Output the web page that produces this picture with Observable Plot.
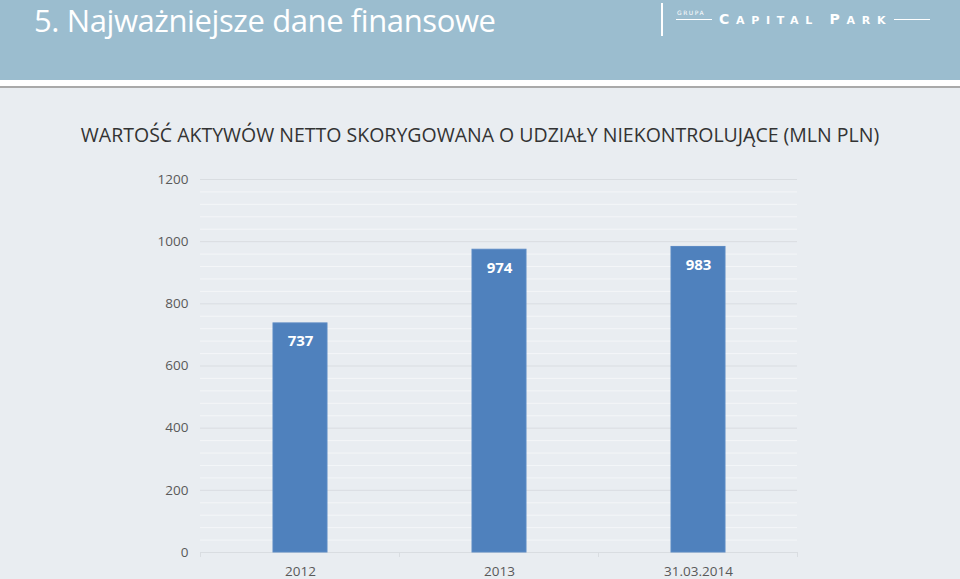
<!DOCTYPE html>
<html>
<head>
<meta charset="utf-8">
<script src="https://cdn.jsdelivr.net/npm/d3@7"></script>
<script src="https://cdn.jsdelivr.net/npm/@observablehq/plot@0.6"></script>
<style>
  html, body { margin: 0; padding: 0; }
  body { width: 960px; height: 579px; overflow: hidden; background: #e9edf1; position: relative; font-family: "Open Sans", sans-serif; }
  #header { position: absolute; left: 0; top: 0; width: 960px; height: 80px; background: #9bbdcf; }
  #whiteband { position: absolute; left: 0; top: 80px; width: 960px; height: 6px; background: #ffffff; }
  #shadow { position: absolute; left: 0; top: 86px; width: 960px; height: 2px; background: #a9a9a9; }
  #htitle { position: absolute; left: 34px; top: -1px; color: #ffffff; font-size: 31px; white-space: nowrap; letter-spacing: -0.4px; }
  #vline { position: absolute; left: 661px; top: 3px; width: 2px; height: 33px; background: #ffffff; }
  #grupa { position: absolute; left: 677px; top: 9px; color: #ffffff; font-size: 6px; letter-spacing: 1.5px; font-family: "DejaVu Sans", sans-serif; }
  #grupaline { position: absolute; left: 676px; top: 19px; width: 36px; height: 1px; background: #ffffff; }
  #capital { position: absolute; left: 719px; top: 12px; color: #ffffff; font-size: 11px; letter-spacing: 6.7px; font-weight: bold; white-space: nowrap; font-family: "DejaVu Sans", sans-serif; line-height: 14px; }
  #capital .big { font-size: 14px; }
  #parkline { position: absolute; left: 894px; top: 19px; width: 36px; height: 1px; background: #ffffff; }
  #ctitle { position: absolute; left: 0; width: 960px; top: 121px; text-align: center; color: #333333; font-size: 19.5px; white-space: nowrap; }
  #chart { position: absolute; left: 0; top: 160px; }
</style>
</head>
<body>
<div id="header"></div>
<div id="whiteband"></div>
<div id="shadow"></div>
<div id="htitle">5. Najważniejsze dane finansowe</div>
<div id="vline"></div>
<div id="grupa">GRUPA</div>
<div id="grupaline"></div>
<div id="capital"><span class="big">C</span>APITAL <span class="big">P</span>ARK</div>
<div id="parkline"></div>
<div id="ctitle">WARTOŚĆ AKTYWÓW NETTO SKORYGOWANA O UDZIAŁY NIEKONTROLUJĄCE (MLN PLN)</div>
<div id="chart"></div>
<script>
const categories = ["2012", "2013", "31.03.2014"];
const values = [737, 974, 983];
const yTicks = [0, 200, 400, 600, 800, 1000, 1200];
const yMinor = [40, 80, 120, 160, 240, 280, 320, 360, 440, 480, 520, 560, 640, 680, 720, 760, 840, 880, 920, 960, 1040, 1080, 1120, 1160];

const data = categories.map((c, i) => ({category: c, value: values[i]}));

// Tick marks at band boundaries, computed from the x scale
function bandBoundaries(index, scales, channels, dimensions) {
  const x = scales.x;
  const bw = typeof x.bandwidth === "function" ? x.bandwidth() : (x.bandwidth || 0);
  const centers = categories.map(c => x(c) + bw / 2);
  const step = centers[1] - centers[0];
  const bounds = [centers[0] - step / 2, ...centers.map(c => c + step / 2)];
  const y0 = scales.y(0);
  const g = d3.create("svg:g");
  for (const b of bounds) {
    g.append("line").attr("x1", b).attr("x2", b).attr("y1", y0).attr("y2", y0 + 5)
      .attr("stroke", "#d9dde1").attr("stroke-width", 1);
  }
  return g.node();
}

const chart = Plot.plot({
  width: 960,
  height: 419,
  marginTop: 19,
  marginBottom: 27,
  marginLeft: 200,
  marginRight: 163,
  style: { background: "transparent", fontFamily: "Open Sans, sans-serif", overflow: "visible" },
  x: { domain: categories, paddingInner: 0.73, paddingOuter: 0.365, label: null },
  y: { domain: [0, 1200], label: null },
  marks: [
    Plot.ruleY(yMinor, { stroke: "#f4f6f8", strokeWidth: 1 }),
    Plot.ruleY(yTicks, { stroke: "#d9dde1", strokeWidth: 1 }),
    Plot.axisY({ ticks: yTicks, tickFormat: d => String(d), tickSize: 0, tickPadding: 12, fontSize: 13.5, fill: "#595959", label: null }),
    Plot.axisX({ tickSize: 0, tickPadding: 14, fontSize: 13.5, fill: "#595959", label: null }),
    Plot.barY(data, { x: "category", y: "value", fill: "#4f81bd", stroke: "#5b8ac4", strokeWidth: 1 }),
    Plot.text(data, { x: "category", y: "value", text: d => String(d.value), dy: 18, fill: "#ffffff", fontWeight: "bold", fontSize: 15 }),
    bandBoundaries
  ]
});
document.getElementById("chart").appendChild(chart);
</script>
</body>
</html>
